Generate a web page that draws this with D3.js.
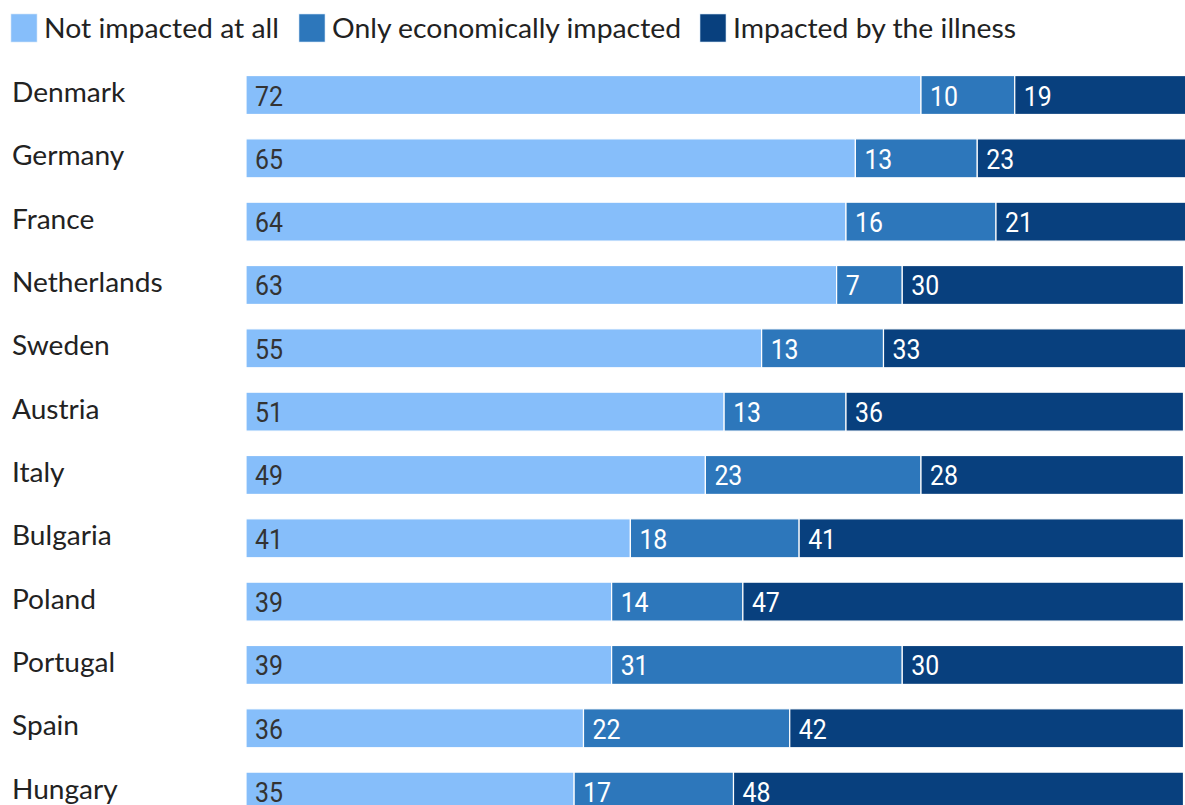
<!DOCTYPE html>
<html><head><meta charset="utf-8">
<script src="https://cdn.jsdelivr.net/npm/d3@7"></script>
<style>body{margin:0;background:#fff;overflow:hidden}svg{display:block}</style>
</head><body>
<script>
const countries = ["Denmark","Germany","France","Netherlands","Sweden","Austria","Italy","Bulgaria","Poland","Portugal","Spain","Hungary"];
const notImpacted = [72,65,64,63,55,51,49,41,39,39,36,35];
const onlyEconomic = [10,13,16,7,13,13,23,18,14,31,22,17];
const illness = [19,23,21,30,33,36,28,41,47,30,42,48];
const seriesNames = ["Not impacted at all","Only economically impacted","Impacted by the illness"];
const colors = ["#86BEFA","#2D77BB","#08407E"];
const textColors = ["#333333","#ffffff","#ffffff"];

const W = 1185, H = 805;
const svg = d3.select("body").append("svg").attr("width", W).attr("height", H);

const rows = countries.map((c,i)=>({country:c, s0:notImpacted[i], s1:onlyEconomic[i], s2:illness[i]}));
const stack = d3.stack().keys(["s0","s1","s2"])(rows);

const x = d3.scaleLinear().domain([0,100]).range([246, 246+937.5]);
const y = d3.scaleBand().domain(countries).range([63.5, 63.5+63.3*12]).paddingInner(0.385).paddingOuter(0.19);

function widen(sel, f){
  sel.each(function(){
    const L = this.getComputedTextLength();
    d3.select(this).attr("textLength", L*f).attr("lengthAdjust","spacingAndGlyphs");
  });
}

// legend
const legendX = [11, 299, 700];
const lg = svg.append("g");
seriesNames.forEach((n,i)=>{
  lg.append("rect").attr("x", legendX[i]).attr("y", 14).attr("width", 26).attr("height", 28)
    .attr("fill", colors[i]).attr("stroke","#cfe3f7").attr("stroke-width",0.6);
  const t = lg.append("text").attr("x", legendX[i]+33).attr("y", 38).text(n)
    .attr("font-family","Lato, 'Noto Sans', sans-serif").attr("font-size", 26).attr("fill","#222");
  widen(t, 1.09);
});

// country labels
const cl = svg.append("g").selectAll("text").data(countries).join("text")
  .attr("x", 12).attr("y", d=>y(d)+y.bandwidth()/2+7)
  .attr("font-family","Lato, 'Noto Sans', sans-serif").attr("font-size", 26).attr("fill","#222")
  .text(d=>d);
widen(cl, 1.08);

// bars
const g = svg.append("g");
stack.forEach((layer, li)=>{
  const lgp = g.append("g");
  lgp.selectAll("rect").data(layer).join("rect")
    .attr("x", d=>x(d[0])).attr("y", d=>y(d.data.country))
    .attr("width", d=>x(d[1])-x(d[0])).attr("height", y.bandwidth())
    .attr("fill", colors[li]).attr("stroke","#ffffff").attr("stroke-width",1.2);
  lgp.selectAll("text").data(layer).join("text")
    .attr("x", d=>x(d[0])+9).attr("y", d=>y(d.data.country)+y.bandwidth()/2+10.5)
    .attr("font-family","Roboto, 'Noto Sans', sans-serif").attr("font-size", 27)
    .attr("fill", textColors[li]).attr("textLength", d=>String(d[1]-d[0]).length*14)
    .attr("lengthAdjust","spacingAndGlyphs")
    .text(d=>d[1]-d[0]);
});
</script>
</body></html>
